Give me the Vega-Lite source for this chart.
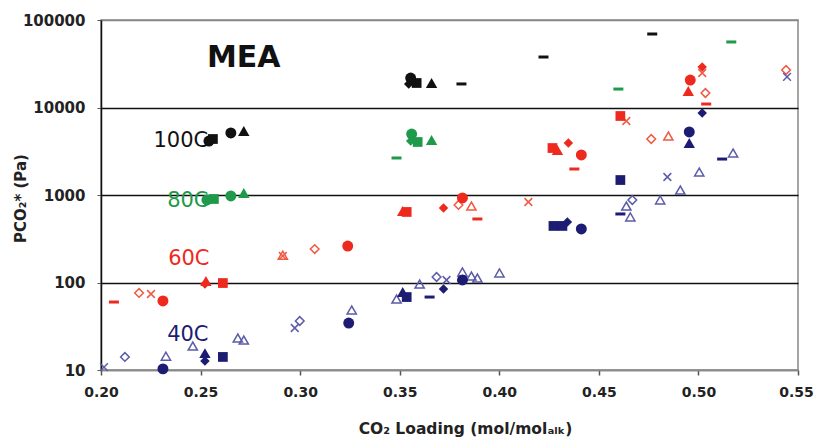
{
  "$schema": "https://vega.github.io/schema/vega-lite/v6.json",
  "width": 697,
  "height": 350,
  "autosize": "none",
  "padding": {"left": 101, "top": 20, "right": 16, "bottom": 68},
  "config": {"view": {"stroke": "#888", "strokeWidth": 1.5}, "font": "DejaVu Sans"},
  "datasets": {
    "pts": [
      {"x":0.2542,"y":4140,"s":"ci","c":"k"},
      {"x":0.2562,"y":4365,"s":"sq","c":"k"},
      {"x":0.2652,"y":5115,"s":"ci","c":"k"},
      {"x":0.2717,"y":5385,"s":"tr","c":"k"},
      {"x":0.3555,"y":21730,"s":"ci","c":"k"},
      {"x":0.3545,"y":18580,"s":"di","c":"k"},
      {"x":0.3585,"y":19050,"s":"sq","c":"k"},
      {"x":0.366,"y":19050,"s":"tr","c":"k"},
      {"x":0.381,"y":18580,"s":"da","c":"k"},
      {"x":0.4222,"y":37760,"s":"da","c":"k"},
      {"x":0.4768,"y":69180,"s":"da","c":"k"},

      {"x":0.2532,"y":877,"s":"ci","c":"g"},
      {"x":0.2567,"y":900,"s":"sq","c":"g"},
      {"x":0.2652,"y":975,"s":"ci","c":"g"},
      {"x":0.2717,"y":1054,"s":"tr","c":"g"},
      {"x":0.356,"y":4977,"s":"ci","c":"g"},
      {"x":0.3555,"y":4140,"s":"di","c":"g"},
      {"x":0.359,"y":4036,"s":"sq","c":"g"},
      {"x":0.366,"y":4254,"s":"tr","c":"g"},
      {"x":0.3484,"y":2649,"s":"da","c":"g"},
      {"x":0.4598,"y":16250,"s":"da","c":"g"},
      {"x":0.5165,"y":56100,"s":"da","c":"g"},

      {"x":0.2065,"y":59.8,"s":"da","c":"r"},
      {"x":0.2311,"y":61.5,"s":"ci","c":"r"},
      {"x":0.2522,"y":96,"s":"di","c":"r"},
      {"x":0.2527,"y":104,"s":"tr","c":"r"},
      {"x":0.2612,"y":98.6,"s":"sq","c":"r"},
      {"x":0.3239,"y":261,"s":"ci","c":"r"},
      {"x":0.3515,"y":656,"s":"tr","c":"r"},
      {"x":0.3535,"y":640,"s":"sq","c":"r"},
      {"x":0.372,"y":710,"s":"di","c":"r"},
      {"x":0.3815,"y":925,"s":"ci","c":"r"},
      {"x":0.389,"y":532,"s":"da","c":"r"},
      {"x":0.4267,"y":3443,"s":"sq","c":"r"},
      {"x":0.4292,"y":3266,"s":"tr","c":"r"},
      {"x":0.4347,"y":3926,"s":"di","c":"r"},
      {"x":0.4412,"y":2866,"s":"ci","c":"r"},
      {"x":0.4377,"y":1982,"s":"da","c":"r"},
      {"x":0.4608,"y":7997,"s":"sq","c":"r"},
      {"x":0.4959,"y":20610,"s":"ci","c":"r"},
      {"x":0.4949,"y":15450,"s":"tr","c":"r"},
      {"x":0.5019,"y":29040,"s":"di","c":"r"},
      {"x":0.5039,"y":10960,"s":"da","c":"r"},

      {"x":0.2191,"y":75.9,"s":"od","c":"rl"},
      {"x":0.2251,"y":73.9,"s":"x","c":"rl"},
      {"x":0.2913,"y":201,"s":"x","c":"rl"},
      {"x":0.2913,"y":205,"s":"ot","c":"rl"},
      {"x":0.3073,"y":241,"s":"od","c":"rl"},
      {"x":0.3795,"y":769,"s":"od","c":"rl"},
      {"x":0.386,"y":748,"s":"ot","c":"rl"},
      {"x":0.4146,"y":832,"s":"x","c":"rl"},
      {"x":0.4638,"y":7015,"s":"x","c":"rl"},
      {"x":0.4763,"y":4365,"s":"od","c":"rl"},
      {"x":0.4849,"y":4718,"s":"ot","c":"rl"},
      {"x":0.5019,"y":24780,"s":"x","c":"rl"},
      {"x":0.5035,"y":14650,"s":"od","c":"rl"},
      {"x":0.544,"y":26830,"s":"od","c":"rl"},

      {"x":0.2311,"y":10.3,"s":"ci","c":"b"},
      {"x":0.2522,"y":15.6,"s":"tr","c":"b"},
      {"x":0.2522,"y":12.7,"s":"di","c":"b"},
      {"x":0.2612,"y":14.1,"s":"sq","c":"b"},
      {"x":0.3244,"y":34.4,"s":"ci","c":"b"},
      {"x":0.3515,"y":77.9,"s":"tr","c":"b"},
      {"x":0.3535,"y":68.2,"s":"sq","c":"b"},
      {"x":0.372,"y":84.3,"s":"di","c":"b"},
      {"x":0.3815,"y":106.8,"s":"ci","c":"b"},
      {"x":0.365,"y":68.2,"s":"da","c":"b"},
      {"x":0.4272,"y":443,"s":"sq","c":"b"},
      {"x":0.4317,"y":443,"s":"sq","c":"b"},
      {"x":0.4342,"y":491,"s":"di","c":"b"},
      {"x":0.4412,"y":409,"s":"ci","c":"b"},
      {"x":0.4608,"y":1483,"s":"sq","c":"b"},
      {"x":0.4608,"y":607,"s":"da","c":"b"},
      {"x":0.4954,"y":5250,"s":"ci","c":"b"},
      {"x":0.4954,"y":3926,"s":"tr","c":"b"},
      {"x":0.5019,"y":8650,"s":"di","c":"b"},
      {"x":0.5119,"y":2576,"s":"da","c":"b"},

      {"x":0.2015,"y":10.8,"s":"x","c":"bl"},
      {"x":0.212,"y":14.1,"s":"od","c":"bl"},
      {"x":0.2326,"y":14.4,"s":"ot","c":"bl"},
      {"x":0.2461,"y":18.8,"s":"ot","c":"bl"},
      {"x":0.2687,"y":23.2,"s":"ot","c":"bl"},
      {"x":0.2717,"y":22.0,"s":"ot","c":"bl"},
      {"x":0.2973,"y":30.2,"s":"x","c":"bl"},
      {"x":0.2998,"y":36.3,"s":"od","c":"bl"},
      {"x":0.3259,"y":48.5,"s":"ot","c":"bl"},
      {"x":0.3484,"y":64.7,"s":"ot","c":"bl"},
      {"x":0.36,"y":96.1,"s":"ot","c":"bl"},
      {"x":0.3685,"y":115.6,"s":"od","c":"bl"},
      {"x":0.3735,"y":106.8,"s":"x","c":"bl"},
      {"x":0.3815,"y":131.9,"s":"ot","c":"bl"},
      {"x":0.386,"y":118.5,"s":"ot","c":"bl"},
      {"x":0.389,"y":112.4,"s":"ot","c":"bl"},
      {"x":0.4001,"y":128.5,"s":"ot","c":"bl"},
      {"x":0.4638,"y":748,"s":"ot","c":"bl"},
      {"x":0.4668,"y":877,"s":"od","c":"bl"},
      {"x":0.4658,"y":561,"s":"ot","c":"bl"},
      {"x":0.4808,"y":877,"s":"ot","c":"bl"},
      {"x":0.4844,"y":1607,"s":"x","c":"bl"},
      {"x":0.4909,"y":1140,"s":"ot","c":"bl"},
      {"x":0.5004,"y":1832,"s":"ot","c":"bl"},
      {"x":0.5174,"y":3020,"s":"ot","c":"bl"},
      {"x":0.5445,"y":22340,"s":"x","c":"bl"}
    ],
    "labels": [
      {"x":0.2401,"y":4140,"t":"100C","c":"k"},
      {"x":0.2436,"y":853,"t":"80C","c":"g"},
      {"x":0.2441,"y":186,"t":"60C","c":"r"},
      {"x":0.2436,"y":25.1,"t":"40C","c":"b"}
    ],
    "title": [
      {"x":0.2717,"y":36800,"t":"MEA","c":"k"}
    ]
  },
  "encoding": {
    "x": {
      "field": "x", "type": "quantitative",
      "scale": {"domain": [0.2, 0.55], "nice": false, "zero": false},
      "axis": {
        "values": [0.2, 0.25, 0.3, 0.35, 0.4, 0.45, 0.5, 0.55],
        "format": ".2f", "grid": false, "labelFlush": false,
        "labelOffset": {"condition": {"test": "datum.value > 0.54", "value": -2}, "value": 0},
        "domainColor": "#888", "domainWidth": 1.5,
        "tickColor": "#555", "tickSize": 5, "tickWidth": 1.5,
        "labelFont": "DejaVu Sans", "labelFontWeight": "bold", "labelFontSize": 14,
        "labelColor": "#222", "labelPadding": 10,
        "title": "CO₂ Loading (mol/molₐₗₖ)",
        "titleFont": "DejaVu Sans", "titleFontSize": 15.5, "titleFontWeight": "bold",
        "titleColor": "#222", "titleX": 364, "titleY": 58, "titleBaseline": "middle", "titleAlign": "center"
      }
    },
    "y": {
      "field": "y", "type": "quantitative",
      "scale": {"type": "log", "domain": [10, 100000], "nice": false},
      "axis": {
        "values": [10, 100, 1000, 10000, 100000],
        "format": "d", "grid": true, "labelFlush": false,
        "gridColor": {"condition": {"test": "datum.value == 100 || datum.value == 1000 || datum.value == 10000", "value": "#111"}, "value": "#888"},
        "gridWidth": 1.5,
        "domainColor": "#111", "domainWidth": 1.5,
        "tickColor": "#555", "tickSize": 4,
        "labelFont": "DejaVu Sans", "labelFontWeight": "bold", "labelFontSize": 15,
        "labelColor": "#222", "labelPadding": 12,
        "title": "PCO₂* (Pa)",
        "titleFont": "DejaVu Sans", "titleFontSize": 15, "titleFontWeight": "bold",
        "titleColor": "#222", "titleX": -81, "titleY": 178, "titleAngle": -90,
        "titleBaseline": "middle", "titleAlign": "center"
      }
    },
    "color": {"field": "c", "type": "nominal", "legend": null,
      "scale": {"domain": ["k", "g", "r", "b", "rl", "bl"],
        "range": ["#111111", "#1e9a4a", "#ee2a1e", "#1c1c72", "#ef5a44", "#5b5ba8"]}}
  },
  "layer": [
    {
      "data": {"name": "pts"},
      "transform": [{"filter": {"field": "s", "equal": "ot"}}],
      "mark": {"type": "point", "shape": "triangle-up", "size": 85, "filled": false, "opacity": 1, "strokeWidth": 1.5, "clip": false}
    },
    {
      "data": {"name": "pts"},
      "transform": [{"filter": {"field": "s", "equal": "od"}}],
      "mark": {"type": "point", "shape": "diamond", "size": 75, "filled": false, "opacity": 1, "strokeWidth": 1.5, "clip": false}
    },
    {
      "data": {"name": "pts"},
      "transform": [{"filter": {"field": "s", "equal": "x"}}],
      "mark": {"type": "point", "shape": "M-1,-1L1,1M1,-1L-1,1", "size": 60, "filled": false, "opacity": 1, "strokeWidth": 1.5, "clip": false}
    },
    {
      "data": {"name": "pts"},
      "transform": [{"filter": {"field": "s", "equal": "da"}}],
      "mark": {"type": "point", "shape": "M-1,-0.3H1V0.3H-1Z", "size": 100, "filled": true, "opacity": 1, "clip": false}
    },
    {
      "data": {"name": "pts"},
      "transform": [{"filter": {"field": "s", "equal": "di"}}],
      "mark": {"type": "point", "shape": "diamond", "size": 90, "filled": true, "opacity": 1, "clip": false}
    },
    {
      "data": {"name": "pts"},
      "transform": [{"filter": {"field": "s", "equal": "sq"}}],
      "mark": {"type": "point", "shape": "square", "size": 95, "filled": true, "opacity": 1, "clip": false}
    },
    {
      "data": {"name": "pts"},
      "transform": [{"filter": {"field": "s", "equal": "tr"}}],
      "mark": {"type": "point", "shape": "triangle-up", "size": 130, "filled": true, "opacity": 1, "clip": false}
    },
    {
      "data": {"name": "pts"},
      "transform": [{"filter": {"field": "s", "equal": "ci"}}],
      "mark": {"type": "point", "shape": "circle", "size": 120, "filled": true, "opacity": 1, "clip": false}
    },
    {
      "data": {"name": "labels"},
      "mark": {"type": "text", "font": "DejaVu Sans", "fontSize": 21, "align": "center", "baseline": "middle"},
      "encoding": {"text": {"field": "t"}}
    },
    {
      "data": {"name": "title"},
      "mark": {"type": "text", "font": "DejaVu Sans", "fontSize": 30, "fontWeight": "bold", "align": "center", "baseline": "middle"},
      "encoding": {"text": {"field": "t"}}
    }
  ]
}
